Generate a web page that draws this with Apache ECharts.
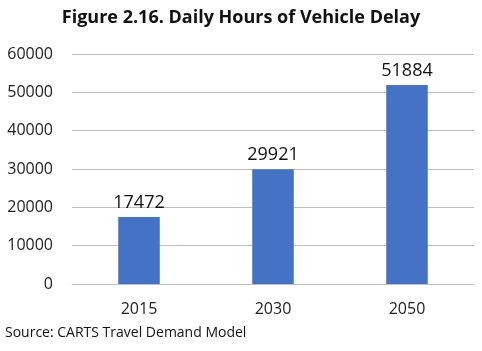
<!DOCTYPE html>
<html>
<head>
<meta charset="utf-8">
<script src="https://cdn.jsdelivr.net/npm/echarts@6/dist/echarts.min.js"></script>
<style>
  html, body { margin: 0; padding: 0; background: #fff; }
  #chart { width: 482px; height: 351px; }
</style>
</head>
<body>
<div id="chart"></div>
<script>
// chart data
const years = ['2015', '2030', '2050']
const delayHours = [17472, 29921, 51884]
const yTicks = { min: 0, max: 60000, interval: 10000 }

const chart = echarts.init(document.getElementById('chart'), null, { renderer: 'canvas' })

const font = '"Open Sans", "Noto Sans", sans-serif'

const option = {
  animation: false,
  title: {
    text: 'Figure 2.16. Daily Hours of Vehicle Delay',
    left: 'center',
    top: 4,
    textStyle: { fontFamily: font, fontSize: 18, fontWeight: 'bold', color: '#111' }
  },
  graphic: [
    {
      type: 'text',
      left: 5,
      top: 326,
      style: { text: 'Source: CARTS Travel Demand Model', font: '14px ' + font, fill: '#111' }
    }
  ],
  grid: { left: 72, right: 8, top: 54, bottom: 67 },
  xAxis: {
    type: 'category',
    data: years,
    axisLine: { lineStyle: { color: '#bfbfbf', width: 1 } },
    axisTick: { show: false },
    axisLabel: { fontFamily: font, fontSize: 16, color: '#222', margin: 17 }
  },
  yAxis: {
    type: 'value',
    min: yTicks.min,
    max: yTicks.max,
    interval: yTicks.interval,
    axisLine: { show: false },
    axisTick: { show: false },
    splitLine: { lineStyle: { color: '#bfbfbf', width: 1 } },
    axisLabel: {
      fontFamily: font,
      fontSize: 16,
      color: '#222',
      margin: 19,
      formatter: function (v) { return String(v) }
    }
  },
  series: [
    {
      type: 'bar',
      data: delayHours,
      barWidth: '31%',
      itemStyle: { color: '#4472c4' },
      label: {
        show: true,
        position: 'top',
        distance: 5,
        fontFamily: font,
        fontSize: 18,
        color: '#111'
      }
    }
  ]
}

chart.setOption(option)
</script>
</body>
</html>
